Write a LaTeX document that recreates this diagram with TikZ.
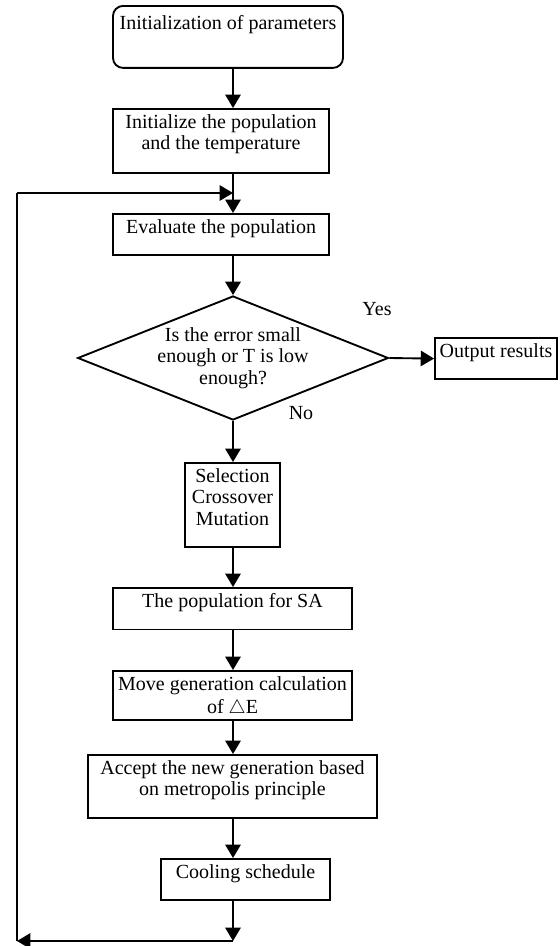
\documentclass[tikz,border=0pt]{standalone}
\usepackage{fontspec}
\setmainfont{Liberation Serif}
\usetikzlibrary{arrows.meta,shapes.geometric}

\begin{document}
\begin{tikzpicture}[x=0.75pt,y=-0.75pt,
  font=\fontsize{15}{16}\selectfont,
  box/.style={draw, line width=1.4pt, align=center, anchor=north,
    inner xsep=3pt, inner ysep=4.3pt, text depth=12pt},
  decide/.style={draw, line width=1.4pt, shape=diamond, aspect=2.5,
    align=center, inner sep=0pt, minimum width=233pt, minimum height=93pt},
  arr/.style={line width=1.4pt, -{Triangle[length=10pt,width=11.5pt]}},
  loop/.style={line width=1.4pt}]
\useasboundingbox (0,0) rectangle (560,946);
\coordinate (ax) at (233,0);
\node[box, rounded corners=7.5pt, minimum width=172.5pt, inner ysep=7pt, text depth=21.9pt] (ini) at (228,5) {Initialization of parameters};
\node[box, minimum width=162pt, text depth=13pt] (pop) at (221,108) {Initialize the population\\and the temperature};
\node[box, minimum width=162pt] (ev) at (221,213) {Evaluate the population};
\node[decide] (dec) at (233,358) {Is the error small\\enough or T is low\\enough?};
\node[box, minimum width=91.5pt] (out) at (496,337) {Output results};
\node (yes) at (377,309) {Yes};
\node[fill=white, inner sep=2pt] (no) at (301,413) {No};
\node[box, minimum width=71pt] (sel) at (232.5,462) {Selection\\Crossover\\Mutation};
\node[box, minimum width=179pt] (sa) at (232.5,587) {The population for SA};
\node[box, minimum width=179pt, text depth=-2.4pt] (mov) at (232.5,670) {Move generation calculation\\[1.5pt]of $\triangle$E};
\node[box, minimum width=217pt] (acc) at (232.5,754) {Accept the new generation based\\on metropolis principle};
\node[box, minimum width=127pt] (cool) at (245.5,858) {Cooling schedule};
\coordinate (lpb) at (233,941);
\coordinate (lpl) at (17,941);
\coordinate (lpt) at (17,193);
% main column
\draw[arr] (ini.south -| ax) -- (pop.north -| ax);
\draw[arr] (pop.south -| ax) -- (ev.north -| ax);
\draw[arr] (ev.south -| ax) -- (dec.north);
\draw[arr] (dec.east) -- (out.west);
\draw[arr] (dec.south) -- (sel.north -| ax);
\draw[arr] (sel.south -| ax) -- (sa.north -| ax);
\draw[arr] (sa.south -| ax) -- (mov.north -| ax);
\draw[arr] (mov.south -| ax) -- (acc.north -| ax);
\draw[arr] (acc.south -| ax) -- (cool.north -| ax);
\draw[arr] (cool.south -| ax) -- (lpb);
% loop back
\draw[arr] (lpb) -- (lpl);
\draw[loop] (lpl) -- (lpt);
\draw[arr] (lpt) -- (lpt -| ax);
\end{tikzpicture}
\end{document}
